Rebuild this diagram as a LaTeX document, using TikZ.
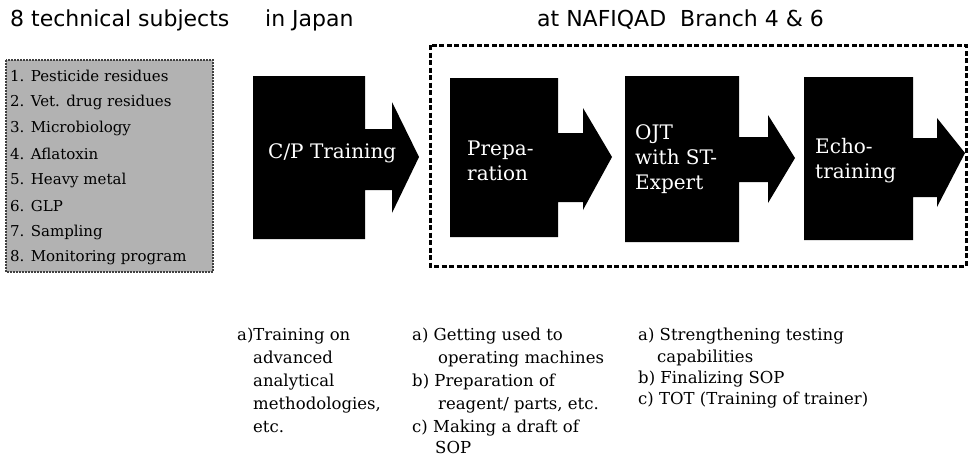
\documentclass[tikz,border=0pt]{standalone}
\usepackage{fontspec}
\setmainfont{DejaVu Serif}
\newfontfamily\headfont{DejaVu Sans}
\begin{document}
\begin{tikzpicture}[x=1pt,y=-1pt,
  heading/.style={anchor=base west,inner sep=0pt,font=\headfont\fontsize{22}{26}\selectfont},
  subject/.style={anchor=west,inner sep=0pt,font=\fontsize{15}{18}\selectfont},
  blocktext/.style={anchor=west,inner sep=0pt,text=white,align=left,font=\fontsize{20}{25}\selectfont},
  note/.style={anchor=base west,inner sep=0pt,font=\fontsize{16.5}{20}\selectfont},
  blockarrow/.style={fill=black,draw=none},
  branchframe/.style={draw=black,line width=3pt,dash pattern=on 5pt off 2.5pt},
  subjectbox/.style={fill=black!30,draw=black!75,line width=1.2pt,dash pattern=on 2pt off 1pt}]
\useasboundingbox (0,0) rectangle (969,459);

% column headings
\node[heading] (hsub) at (10,26) {8 technical subjects};
\node[heading] (hjp) at (265,26) {in Japan};
\node[heading] (hbr) at (537,26) {at NAFIQAD\ \ Branch 4 \& 6};

% list of the technical subjects
\path[subjectbox] (6,60) rectangle (213,272);
\foreach \t [count=\i] in {1. Pesticide residues,2. Vet. drug residues,3. Microbiology,4. Aflatoxin,5. Heavy metal,6. GLP,7. Sampling,8. Monitoring program}
  \node[subject] (s\i) at (10,{76+26*(\i-1)}) {\t};

% frame round the work at the branches
\path[branchframe] (430,45) rectangle (966,266);

% block arrows: box, shaft and head
\fill[blockarrow] (253,76) -- (365,76) -- (365,129) -- (392,129) -- (392,102) -- (419,157)
  -- (392,213) -- (392,190) -- (365,190) -- (365,239) -- (253,239) -- cycle;
\fill[blockarrow] (450,78) -- (558,78) -- (558,133) -- (583,133) -- (583,108) -- (612,157)
  -- (583,210) -- (583,202) -- (558,202) -- (558,237) -- (450,237) -- cycle;
\fill[blockarrow] (625,76) -- (739,76) -- (739,137) -- (768,137) -- (768,115) -- (795,158)
  -- (768,203) -- (768,182) -- (739,182) -- (739,242) -- (625,242) -- cycle;
\fill[blockarrow] (804,77) -- (913,77) -- (913,138) -- (937,138) -- (937,118) -- (965,153)
  -- (937,207) -- (937,197) -- (913,197) -- (913,240) -- (804,240) -- cycle;

\node[blocktext] (cp) at (268,153) {C/P Training};
\node[blocktext] (prep) at (467,161) {Prepa-\\ration};
\node[blocktext] (ojt) at (635,159) {OJT\\with ST-\\Expert};
\node[blocktext] (echo) at (815,161) {Echo-\\training};

% notes under the arrows
\node[note] (a1) at (237,340) {a)Training on};
\node[note] (a2) at (253,363) {advanced};
\node[note] (a3) at (253,386) {analytical};
\node[note] (a4) at (253,409) {methodologies,};
\node[note] (a5) at (253,432) {etc.};

\node[note] (b1) at (412,340) {a) Getting used to};
\node[note] (b2) at (438,363) {operating machines};
\node[note] (b3) at (412,386) {b) Preparation of};
\node[note] (b4) at (438,409) {reagent/ parts, etc.};
\node[note] (b5) at (412,432) {c) Making a draft of};
\node[note] (b6) at (435,453) {SOP};

\node[note] (c1) at (638,340) {a) Strengthening testing};
\node[note] (c2) at (657,362) {capabilities};
\node[note] (c3) at (638,383) {b) Finalizing SOP};
\node[note] (c4) at (638,404) {c) TOT (Training of trainer)};
\end{tikzpicture}
\end{document}
